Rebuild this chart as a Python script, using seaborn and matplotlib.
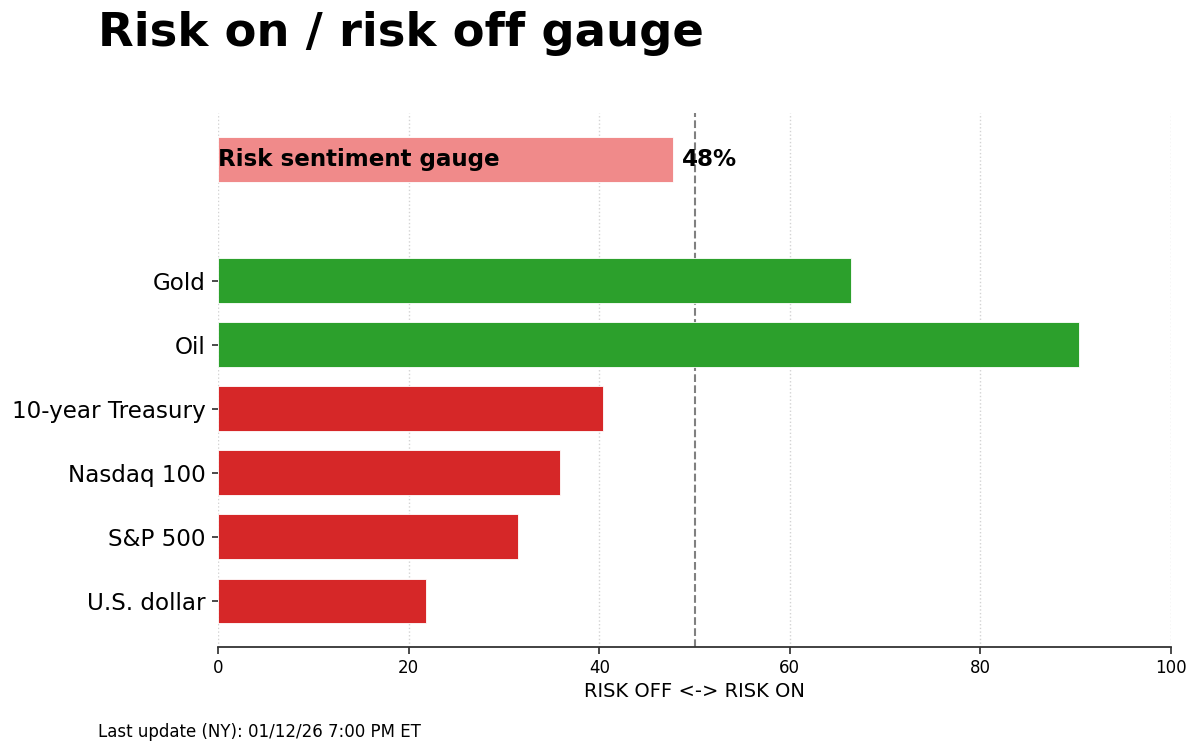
import matplotlib.pyplot as plt
import numpy as np
import pandas as pd
import seaborn as sns

# values
assets = ["U.S. dollar", "S&P 500", "Nasdaq 100", "10-year Treasury", "Oil", "Gold"]
scores = [21.8, 31.5, 35.9, 40.4, 90.3, 66.4]
signals = ["off", "off", "off", "off", "on", "on"]
gauge_label = "Risk sentiment gauge"
gauge_value = 47.7
midpoint = 50
x_ticks = [0, 20, 40, 60, 80, 100]

sns.set_theme(
    style="white",
    rc={"text.color": "black", "axes.labelcolor": "black",
        "xtick.color": "black", "ytick.color": "black"},
)
plt.rcParams["font.family"] = ["DejaVu Sans"]

positions = list(range(len(assets))) + [len(assets) + 0.9]
df = pd.DataFrame(
    {
        "score": scores + [gauge_value],
        "pos": positions,
        "kind": signals + ["gauge"],
    }
)
palette = {"on": "#2ca02c", "off": "#d62728", "gauge": "#f08a8a"}

fig = plt.figure(figsize=(12, 7.52), dpi=100)
ax = fig.add_axes([0.1817, 0.1396, 0.7942, 0.7101])

sns.barplot(
    data=df,
    x="score",
    y="pos",
    hue="kind",
    palette=palette,
    saturation=1,
    orient="h",
    native_scale=True,
    width=0.7,
    dodge=False,
    legend=False,
    edgecolor="white",
    linewidth=0.6,
    ax=ax,
)

ax.axvline(midpoint, color="gray", linestyle="--", linewidth=1.5, zorder=0.5)
ax.set_xlim(0, 100)
ax.set_ylim(-0.72, positions[-1] + 0.72)
ax.set_xticks(x_ticks)
ax.set_yticks(range(len(assets)))
ax.set_yticklabels(assets, fontsize=16.6)
ax.tick_params(axis="x", labelsize=12, length=5, color="#333333", bottom=True)
ax.tick_params(axis="y", length=4, color="#333333", left=True, pad=5)
ax.set_xlabel("RISK OFF <-> RISK ON", fontsize=14, labelpad=4)
ax.set_ylabel("")
ax.grid(axis="x", linestyle=":", color="lightgray", linewidth=1)
ax.set_axisbelow(True)

for side in ["top", "right", "left"]:
    ax.spines[side].set_visible(False)
ax.spines["bottom"].set_color("#333333")
ax.spines["bottom"].set_linewidth(1.3)

ax.text(0, positions[-1], gauge_label, fontsize=16.6, fontweight="bold",
        va="center", ha="left")
ax.text(gauge_value + 1, positions[-1], f"{round(gauge_value)}%", fontsize=16.6,
        fontweight="bold", va="center", ha="left")

fig.text(0.082, 0.956, "Risk on / risk off gauge", fontsize=33.5,
         fontweight="bold", va="center", ha="left")
fig.text(0.082, 0.027, "Last update (NY): 01/12/26 7:00 PM ET", fontsize=12,
         va="center", ha="left")

fig.savefig("out.png", dpi=100)
